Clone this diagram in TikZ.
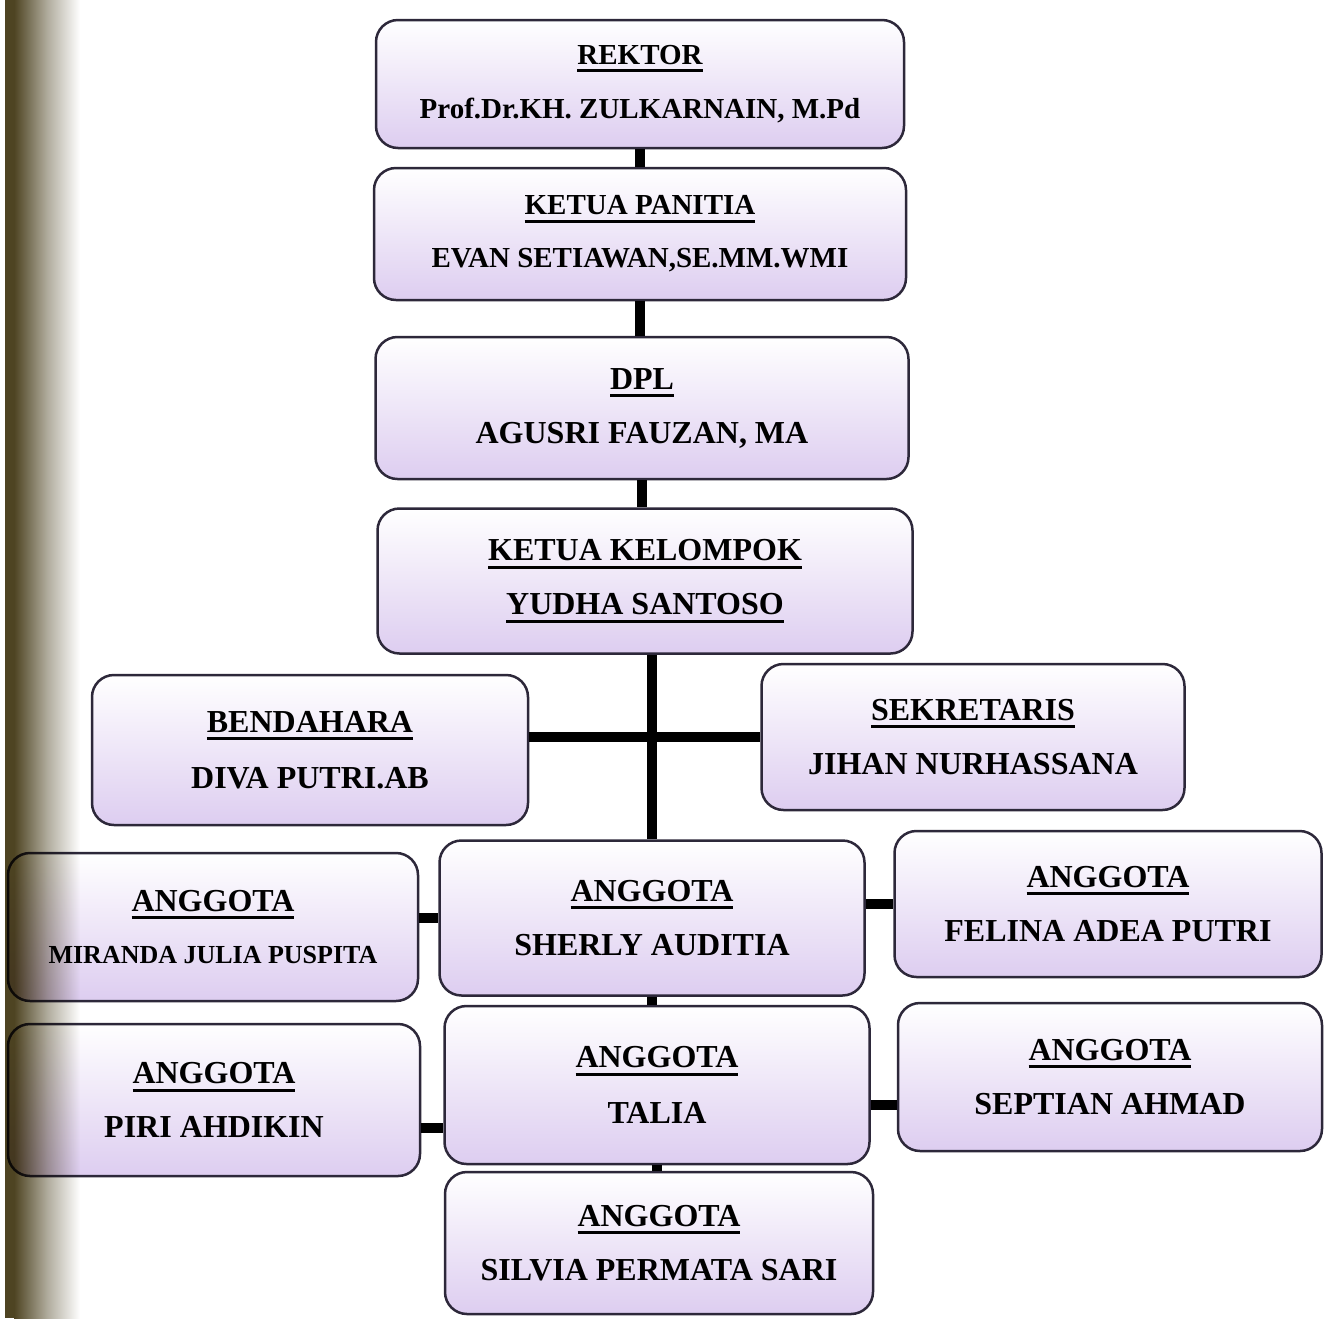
\documentclass[tikz,border=0pt]{standalone}
\usepackage{fontspec}
\setmainfont{Liberation Serif}
\usetikzlibrary{positioning}
\definecolor{lav}{RGB}{221,205,240}
\definecolor{rim}{RGB}{45,40,58}
\definecolor{spine}{RGB}{78,68,34}
\newcommand{\ttl}[1]{\setbox0\hbox{#1}\leavevmode\rlap{\vrule height -5pt depth 8pt width \wd0}\box0}

\begin{document}
\begin{tikzpicture}[
  x=1pt, y=-1pt,
  unit/.style={draw=rim, line width=2.5pt, rounded corners=22pt, top color=white, bottom color=lav,
    align=center, inner sep=0pt, font=\bfseries\fontsize{32}{38}\selectfont},
  top/.style={font=\bfseries\fontsize{29}{35}\selectfont},
  link/.style={line width=10pt}
]
\useasboundingbox (0,0) rectangle (1325,1318);

\node[unit, top, minimum width=528pt, minimum height=128pt] (rektor) at (640,84) {\ttl{REKTOR}\\[19pt]Prof.Dr.KH. ZULKARNAIN, M.Pd};
\node[unit, top, minimum width=532pt, minimum height=132pt] (panitia) at (640,234) {\ttl{KETUA PANITIA}\\[18pt]EVAN SETIAWAN,SE.MM.WMI};
\node[unit, minimum width=533pt, minimum height=142pt] (dpl) at (642,408) {\ttl{DPL}\\[16pt]AGUSRI FAUZAN, MA};
\node[unit, minimum width=535pt, minimum height=145pt] (kk) at (645,581) {\ttl{KETUA KELOMPOK}\\[16pt]\ttl{YUDHA SANTOSO}};

\node[unit, minimum width=436pt, minimum height=150pt] (bendahara) at (310,750) {\ttl{BENDAHARA}\\[18pt]DIVA PUTRI.AB};
\node[unit, minimum width=423pt, minimum height=146pt] (sekretaris) at (973,737) {\ttl{SEKRETARIS}\\[16pt]JIHAN NURHASSANA};

\node[unit, minimum width=410pt, minimum height=148pt] (miranda) at (213,927) {\ttl{ANGGOTA}\\[14pt]{\fontsize{26}{31}\selectfont MIRANDA JULIA PUSPITA}};
\node[unit, minimum width=425pt, minimum height=155pt] (sherly) at (652,918) {\ttl{ANGGOTA}\\[16pt]SHERLY AUDITIA};
\node[unit, minimum width=427pt, minimum height=146pt] (felina) at (1108,904) {\ttl{ANGGOTA}\\[16pt]FELINA ADEA PUTRI};

\node[unit, minimum width=412pt, minimum height=152pt] (piri) at (214,1100) {\ttl{ANGGOTA}\\[16pt]PIRI AHDIKIN};
\node[unit, minimum width=425pt, minimum height=158pt] (talia) at (657,1085) {\ttl{ANGGOTA}\\[18pt]TALIA};
\node[unit, minimum width=424pt, minimum height=148pt] (septian) at (1110,1077) {\ttl{ANGGOTA}\\[16pt]SEPTIAN AHMAD};

\node[unit, minimum width=428pt, minimum height=142pt] (silvia) at (659,1243) {\ttl{ANGGOTA}\\[16pt]SILVIA PERMATA SARI};

\draw[link] (rektor.south) -- (rektor.south |- panitia.north);
\draw[link] (panitia.south) -- (panitia.south |- dpl.north);
\draw[link] (dpl.south) -- (dpl.south |- kk.north);
\draw[link] (sherly.north |- kk.south) -- (sherly.north);
\draw[link] (bendahara.east |- sekretaris.west) -- (sekretaris.west);
\draw[link] (miranda.east |- sherly.west) -- (sherly.west);
\draw[link] (sherly.east |- felina.west) -- (felina.west);
\draw[link] (sherly.south) -- (sherly.south |- talia.north);
\draw[link] ([yshift=-28pt]piri.east) -- ([yshift=-28pt]piri.east -| talia.west);
\draw[link] ([yshift=-28pt]septian.west) -- ([yshift=-28pt]septian.west -| talia.east);
\draw[link] (talia.south) -- (talia.south |- silvia.north);

% binding shadow
\begin{scope}[blend mode=multiply]
\fill[spine] (5,0) rectangle (14,1318);
\shade[left color=spine, right color=white, middle color=spine!45] (14,0) rectangle (80,1318);
\end{scope}
\end{tikzpicture}
\end{document}
